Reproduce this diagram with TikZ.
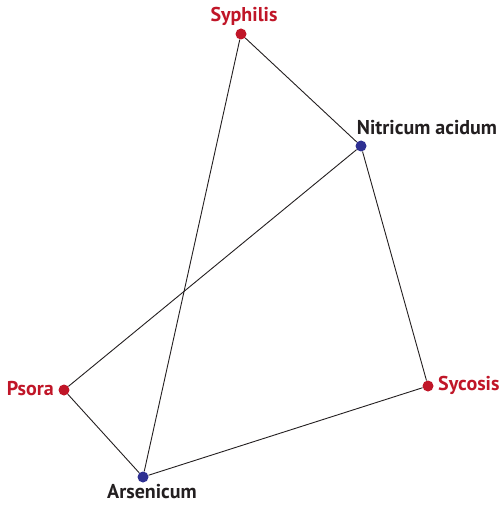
\documentclass[tikz,border=0pt]{standalone}
\usepackage{fontspec}
\setmainfont{PT Sans}
\definecolor{miasm}{RGB}{192,22,40}
\definecolor{remedy}{RGB}{46,48,146}
\definecolor{ink}{RGB}{35,31,32}
\begin{document}
\begin{tikzpicture}[x=1pt,y=-1pt,
  dot/.style={circle, inner sep=0pt, minimum size=11pt},
  lab/.style={font=\fontsize{20}{22}\selectfont\bfseries, inner sep=1pt, text=ink},
  link/.style={line width=0.9pt, draw=ink}]
\useasboundingbox (0,0) rectangle (499,505);
\node[dot, fill=miasm] (syph) at (241,34) {};
\node[dot, fill=remedy] (nitr) at (361,146) {};
\node[dot, fill=miasm] (syc) at (428,386) {};
\node[dot, fill=remedy] (ars) at (143,477) {};
\node[dot, fill=miasm] (psora) at (64,390) {};

\node[lab, text=miasm, anchor=south] at (244,27) {Syphilis};
\node[lab, anchor=south] at (427,136) {Nitricum acidum};
\node[lab, text=miasm, anchor=west] at (437,385) {Sycosis};
\node[lab, text=miasm, anchor=east] at (55,389) {Psora};
\node[lab, anchor=north] at (152,483) {Arsenicum};

\draw[link] (syph) -- (nitr);
\draw[link] (syph) -- (ars);
\draw[link] (nitr) -- (psora);
\draw[link] (nitr) -- (syc);
\draw[link] (syc) -- (ars);
\draw[link] (ars) -- (psora);
\end{tikzpicture}
\end{document}
